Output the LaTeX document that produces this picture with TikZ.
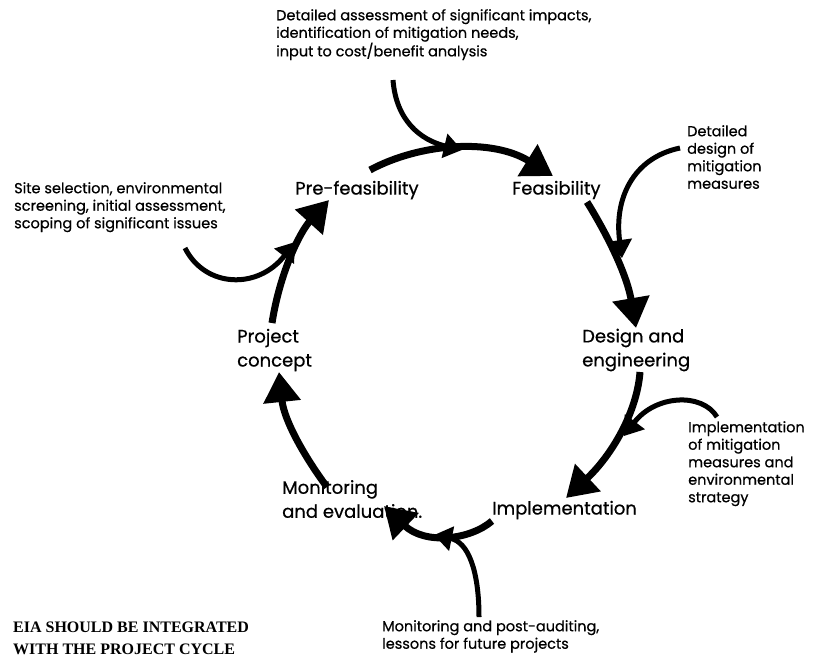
\documentclass[tikz,border=0pt]{standalone}
\usepackage{fontspec}
\setmainfont{Poppins}[FakeBold=0.6]
\newfontfamily\headfont{Liberation Serif}
\usetikzlibrary{arrows.meta}
\tikzset{
  stage/.style={font=\fontsize{18}{24}\selectfont, inner sep=0pt, align=left, anchor=west},
  note/.style={font=\fontsize{14.5}{17.5}\selectfont, inner sep=0pt, align=left, anchor=north west},
  cycarrow/.style={line width=7pt, -{Triangle[length=30pt,width=36pt]}},
  feedarrow/.style={line width=5pt, -{Triangle[length=18pt,width=24pt]}}
}
\begin{document}
\begin{tikzpicture}[x=1pt, y=-1pt]
    \useasboundingbox (0,0) rectangle (821,657);
    % stages of the cycle
    \node[stage] (pre) at (295,190) {Pre-feasibility};
    \node[stage] (feas) at (512,190) {Feasibility};
    \node[stage] (design) at (582,350) {Design and\\engineering};
    \node[stage] (impl) at (492,510) {Implementation};
    \node[stage] (mon) at (282,499) {Monitoring\\and evaluation.};
    \node[stage] (proj) at (237,350) {Project\\concept};
    % side notes
    \node[note] (ntop) at (276,9) {Detailed assessment of significant impacts,\\identification of mitigation needs,\\input to cost/benefit analysis};
    \node[note] (nleft) at (14,182) {Site selection, environmental\\screening, initial assessment,\\scoping of significant issues};
    \node[note] (nright) at (687,125) {Detailed\\design of\\mitigation\\measures};
    \node[note] (nimpl) at (688,421) {Implementation\\of mitigation\\measures and\\environmental\\strategy};
    \node[note] (nbot) at (382,620) {Monitoring and post-auditing,\\lessons for future projects};
    \node[anchor=south west, inner sep=0pt, align=left, font=\headfont\bfseries\fontsize{16}{22}\selectfont] (title) at (13,655) {EIA SHOULD BE INTEGRATED\\WITH THE PROJECT CYCLE};
    % arrow ends
    \coordinate (c1s) at (272,323); \coordinate (c1e) at (329,200);
    \coordinate (c2s) at (370,170); \coordinate (c2e) at (553,176);
    \coordinate (c3s) at (587,202); \coordinate (c3e) at (636,328);
    \coordinate (c4s) at (640,372); \coordinate (c4e) at (566,498);
    \coordinate (c5s) at (492,521); \coordinate (c5e) at (384,506);
    \coordinate (c6s) at (327,487); \coordinate (c6e) at (279,372);
    % the cycle
    \draw[cycarrow] (c1s) .. controls (280,272) and (300,232) .. (c1e);
    \draw[cycarrow] (c2s) .. controls (420,143) and (492,138) .. (c2e);
    \draw[cycarrow] (c3s) .. controls (602,226) and (626,270) .. (c3e);
    \draw[cycarrow] (c4s) .. controls (637,412) and (612,455) .. (c4e);
    \draw[cycarrow] (c5s) .. controls (470,540) and (425,545) .. (c5e);
    \draw[cycarrow] (c6s) .. controls (304,456) and (284,420) .. (c6e);
    % feeders from the notes
    \coordinate (f1s) at (185,248); \coordinate (f1e) at (295,242);
    \coordinate (f2s) at (393,80);  \coordinate (f2e) at (462,150);
    \coordinate (f3s) at (680,148); \coordinate (f3e) at (622,258);
    \coordinate (f4s) at (717,417); \coordinate (f4e) at (624,436);
    \coordinate (f5s) at (479,617); \coordinate (f5e) at (434,535);
    \draw[feedarrow] (f1s) .. controls (205,288) and (258,290) .. (f1e);
    \draw[feedarrow] (f2s) .. controls (396,120) and (420,140) .. (f2e);
    \draw[feedarrow] (f3s) .. controls (632,158) and (614,200) .. (f3e);
    \draw[feedarrow] (f4s) .. controls (702,392) and (655,395) .. (f4e);
    \draw[feedarrow] (f5s) .. controls (479,570) and (468,542) .. (f5e);
\end{tikzpicture}
\end{document}
